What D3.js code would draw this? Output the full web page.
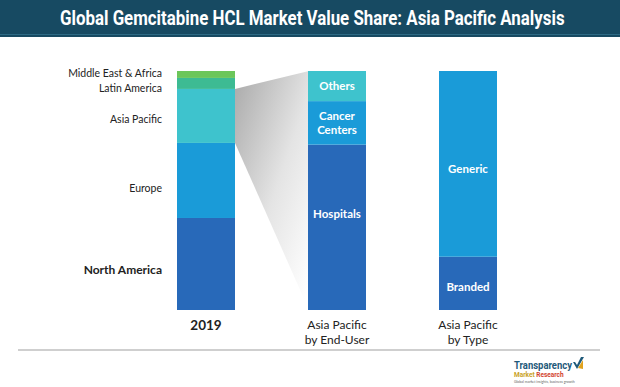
<!doctype html>
<html>
<head>
<meta charset="utf-8">
<script src="https://cdn.jsdelivr.net/npm/d3@7"></script>
<style>
html,body{margin:0;padding:0;background:#fff;overflow:hidden;}
text{font-family:Lato,"Open Sans",sans-serif;}
</style>
</head>
<body>
<script>
// bar categories and stacked shares (%), bottom to top
var bars = ["2019", "Asia Pacific by End-User", "Asia Pacific by Type"];
var barLabels = [["2019"], ["Asia Pacific", "by End-User"], ["Asia Pacific", "by Type"]];

var regions = ["North America", "Europe", "Asia Pacific", "Latin America", "Middle East & Africa"];
var regionShare = [38.5, 31.4, 22.6, 4.6, 2.9];
var regionColor = ["#2869b9", "#1a9bd8", "#3ec3cd", "#3dbb93", "#6cc65a"];

var endUsers = ["Hospitals", "Cancer Centers", "Others"];
var endUserShare = [69.2, 18.2, 12.6];
var endUserColor = ["#2869b9", "#1a9bd8", "#3ec3cd"];

var types = ["Branded", "Generic"];
var typeShare = [22.3, 77.7];
var typeColor = ["#2869b9", "#1a9bd8"];

var W = 620, H = 387;
var svg = d3.select("body").append("svg").attr("width", W).attr("height", H);

// title bar
svg.append("rect").attr("width", W).attr("height", 37).attr("fill", "#174a62");
svg.append("rect").attr("y", 34).attr("width", W).attr("height", 1).attr("fill", "#2d6a84");
var title = svg.append("text")
    .style("font-family", "Roboto,'Liberation Sans',sans-serif")
    .attr("font-size", 19.5).attr("font-weight", "bold").attr("fill", "#fff")
    .text("Global Gemcitabine HCL Market Value Share: Asia Pacific Analysis");
// squeeze to a condensed look
var tw = title.node().getComputedTextLength();
title.attr("transform", "translate(60,25) scale(" + (505 / tw) + ",1)");

var x = d3.scalePoint().domain(bars).range([206, 468]);
var y = d3.scaleLinear().domain([0, 100]).range([310, 71]);
var bw = 58;

function stack(names, vals, cols) {
    var acc = 0;
    return names.map(function(n, i) {
        var d = {name: n, y0: acc, y1: acc + vals[i], color: cols[i]};
        acc += vals[i];
        return d;
    });
}
var s0 = stack(regions, regionShare, regionColor);
var s1 = stack(endUsers, endUserShare, endUserColor);
var s2 = stack(types, typeShare, typeColor);

// gray zoom wedge from Asia Pacific segment to the end-user bar
var grad = svg.append("defs").append("linearGradient").attr("id", "wedge")
    .attr("x1", "0").attr("y1", "0").attr("x2", "0.9").attr("y2", "1");
grad.append("stop").attr("offset", "0").attr("stop-color", "#a9a9a9");
grad.append("stop").attr("offset", "0.55").attr("stop-color", "#e4e4e4");
grad.append("stop").attr("offset", "1").attr("stop-color", "#ffffff");
var ap = s0[2];
var xr = x(bars[0]) + bw / 2, xl = x(bars[1]) - bw / 2 + 1;
svg.append("path")
    .attr("d", d3.line()([[xr, y(ap.y1)], [xl, y(100)], [xl, y(0)], [xr, y(ap.y0)]]))
    .attr("fill", "url(#wedge)");

function drawBar(data, key) {
    svg.append("g").selectAll("rect").data(data).join("rect")
        .attr("x", x(key) - bw / 2)
        .attr("y", function(d) { return y(d.y1); })
        .attr("width", bw)
        .attr("height", function(d) { return y(d.y0) - y(d.y1); })
        .attr("fill", function(d) { return d.color; });
}
drawBar(s0, bars[0]);
drawBar(s1, bars[1]);
drawBar(s2, bars[2]);

// region labels left of first bar
var regionLabelY = [270, 188, 119, 88, 73];
svg.append("g").selectAll("text").data(s0).join("text")
    .attr("x", x(bars[0]) - bw / 2 - 15)
    .attr("y", function(d, i) { return regionLabelY[i]; })
    .attr("dy", "0.35em")
    .attr("text-anchor", "end")
    .attr("font-size", function(d, i) { return i === 0 ? 12 : 10.5; })
    .attr("font-weight", function(d, i) { return i === 0 ? "bold" : "normal"; })
    .attr("fill", "#222")
    .text(function(d) { return d.name; });

// labels inside bars (fraction of segment height where the label sits)
function inner(data, key, lines, pos) {
    data.forEach(function(d, k) {
        var parts = lines[d.name] || [d.name];
        var cy = y(d.y0 + (d.y1 - d.y0) * pos[k]);
        parts.forEach(function(p, i) {
            svg.append("text")
                .attr("x", x(key))
                .attr("y", cy + (i - (parts.length - 1) / 2) * 14)
                .attr("dy", "0.35em")
                .attr("text-anchor", "middle")
                .attr("font-size", 11.5).attr("font-weight", "bold").attr("fill", "#fff")
                .text(p);
        });
    });
}
inner(s1, bars[1], {"Cancer Centers": ["Cancer", "Centers"]}, [0.58, 0.5, 0.5]);
inner(s2, bars[2], {}, [0.44, 0.47]);

// category labels under bars
bars.forEach(function(b, i) {
    barLabels[i].forEach(function(p, j) {
        svg.append("text")
            .attr("x", x(b))
            .attr("y", 325 + j * 15)
            .attr("dy", "0.35em")
            .attr("text-anchor", "middle")
            .attr("fill", "#222")
            .attr("font-size", i === 0 ? 13.5 : 12)
            .attr("font-weight", i === 0 ? "bold" : "normal")
            .text(p);
    });
});

// footer rule
svg.append("line").attr("x1", 18).attr("x2", 600).attr("y1", 350).attr("y2", 350)
    .attr("stroke", "#cfcfcf").attr("stroke-width", 2);

// logo
var logo = svg.append("g").attr("transform", "translate(514,369)");
logo.append("text").attr("font-size", 11.5).attr("font-weight", "bold")
    .attr("textLength", 58).attr("lengthAdjust", "spacingAndGlyphs")
    .style("font-family", "Roboto,sans-serif")
    .attr("fill", "#1f5a7a").text("Transparency");
logo.append("text").attr("y", 8).attr("font-size", 6.5).attr("font-weight", "bold")
    .style("font-family", "Roboto,sans-serif")
    .attr("fill", "#c9a227").text("Market ").append("tspan").attr("fill", "#d2452f").text("Research");
logo.append("text").attr("y", 14).attr("font-size", 3.5).attr("fill", "#666").text("Global market insights, business growth");
logo.append("path").attr("d", "M59,-7 L63,0 L70,-12 L67,-12 L63,-4 L61,-7 Z").attr("fill", "#1f5a7a");
logo.append("path").attr("d", "M64,-1 L69,-9 L69,0 Z").attr("fill", "#e0a21e");
</script>
</body>
</html>
